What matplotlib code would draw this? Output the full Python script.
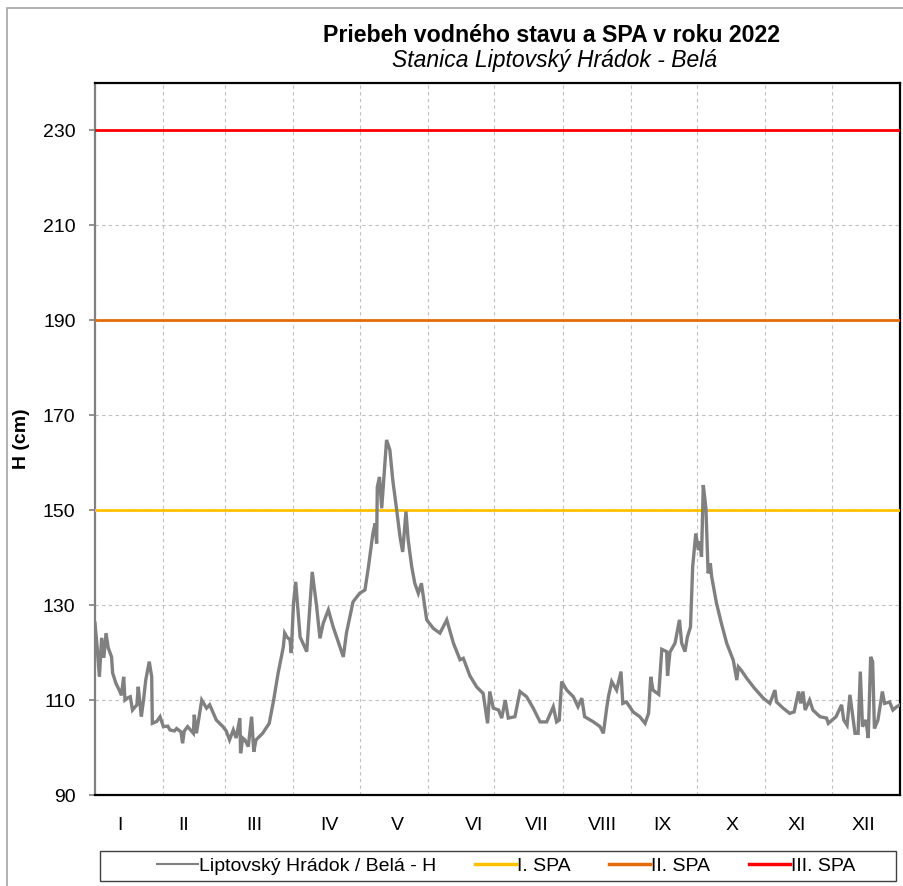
import matplotlib
matplotlib.use("Agg")
import matplotlib.pyplot as plt
from matplotlib.patches import Rectangle
from matplotlib.lines import Line2D

plt.rcParams['font.family'] = ['Liberation Sans', 'DejaVu Sans']

# ---------------- data ----------------
day = [0, 1, 2, 3, 4, 5, 6, 7.5, 8, 9.5, 11, 12, 13, 13.6, 15, 16, 17, 19, 19.6, 21, 22, 23,
       24.6, 25.7, 26, 28, 29.5, 31, 33, 34, 36, 37, 39, 39.7, 40.5, 42, 44.6, 45, 46, 48.4,
       50.6, 52, 55, 58, 59.5, 61, 62.7, 64, 65.7, 66, 67, 68, 69.5, 71, 72, 73, 76, 79, 81,
       83, 85.4, 86, 87, 88.4, 89, 90, 91, 93, 96, 98.5, 100.5, 102, 103.5, 105.8, 108, 112.6,
       114, 117, 120, 122.4, 124, 126, 127, 127.7, 128, 129, 130, 130.7, 132.2, 133.7, 135,
       136.8, 138.3, 139.5, 141, 142, 143.6, 145, 146.6, 148, 150.4, 153.4, 156.4, 159.5,
       162.5, 165.5, 167, 170, 173, 176, 178, 179, 180.6, 183, 184.4, 186, 187.4, 190.4,
       192.7, 195.7, 198.7, 201.8, 204.8, 207.8, 209.3, 210.5, 211.6, 213.9, 216.9, 219,
       220.7, 222, 226, 229, 230.5, 232, 232.8, 234.3, 236.5, 238.5, 239.3, 241, 244, 247,
       249.4, 251, 252, 253, 255.6, 257, 259.2, 259.6, 260.7, 263, 265, 266, 267.5, 268.6,
       270, 271, 272.4, 273.6, 274.3, 275, 275.8, 277, 278, 279, 279.6, 281.8, 284, 286.4,
       289.4, 291, 291.7, 293, 295.5, 299, 303, 306, 308.3, 309, 312, 315, 317, 319, 320,
       321, 322, 324, 325.5, 328.7, 331.7, 332.5, 336, 338.5, 339.5, 341, 342.3, 344.6, 346,
       347, 348, 349.5, 350.6, 351.7, 352.6, 353.4, 355, 357, 358, 360.3, 361.8, 363.5, 365]
level = [126.2, 121, 114.9, 123.1, 118.9, 124.1, 121, 119.1, 115.7, 113.5, 112.1, 111, 114.9,
         110, 110.5, 110.7, 107.9, 109, 112.8, 106.5, 110, 114.2, 118.1, 114.9, 105.1, 105.5,
         106.5, 104.4, 104.5, 103.7, 103.5, 104, 103.3, 100.9, 103.5, 104.4, 103, 106.9, 103,
         110, 108.3, 109, 105.8, 104.4, 103.5, 101.6, 103.7, 102, 106.2, 98.8, 102, 101.6,
         100.2, 106.5, 99.1, 101.6, 103, 105.1, 110, 115.6, 121.2, 124.1, 123.3, 122.7, 119.9,
         130.4, 134.9, 123.3, 120.2, 137, 129.7, 123, 126.2, 129, 125.4, 119.1, 124.1, 130.7,
         132.5, 133.2, 138.1, 145.1, 147.2, 143, 154.9, 157, 150.4, 154.9, 164.8, 162.7, 156.4,
         150, 144.4, 141.2, 149.7, 143.7, 138.1, 134.6, 132.5, 134.6, 126.9, 125.1, 124.1,
         126.9, 122, 118.5, 118.8, 115.1, 112.8, 111.4, 105.1, 111.8, 108.3, 107.9, 106.2, 110,
         106.2, 106.5, 111.8, 110.7, 108.3, 105.4, 105.4, 108.6, 105.4, 105.8, 113.9, 112.1,
         110.7, 108.6, 110.4, 106.5, 105.4, 104.4, 103, 108.3, 110.7, 113.9, 112.1, 116, 109.3,
         109.6, 107.5, 106.5, 105.1, 107.2, 114.9, 112.1, 111.2, 120.7, 120.2, 115.1, 120.1,
         122, 126.9, 122, 120.2, 123.3, 125.4, 138.1, 145.1, 141.6, 143.4, 140.2, 155.3, 150.4,
         136.7, 138.8, 136, 130.4, 126.2, 122, 118.4, 114.2, 117, 116.3, 114.6, 112.5, 110.4,
         109.3, 112.1, 109.6, 108.3, 107.2, 107.5, 111.8, 109.3, 111.8, 107.9, 110, 107.9,
         106.5, 106.2, 105.1, 106.5, 109, 105.8, 104.7, 111.1, 103, 103, 116, 104.4, 105.8, 102,
         119.1, 118.1, 104, 105.8, 111.8, 109.3, 109.6, 107.9, 108.6, 109]

spa_levels = [150, 190, 230]
spa_names = ["I. SPA", "II. SPA", "III. SPA"]
series_name = "Liptovský Hrádok / Belá - H"

month_starts = [0, 31, 59, 90, 120, 151, 181, 212, 243, 273, 304, 334, 365]
month_labels = ["I", "II", "III", "IV", "V", "VI", "VII", "VIII", "IX", "X", "XI", "XII"]
month_label_pos = [11.3, 40.4, 72.1, 106.5, 137, 171.8, 200.4, 230.3, 257.5, 288.8, 318.3, 348.2]

y_ticks = [90, 110, 130, 150, 170, 190, 210, 230]

title = "Priebeh vodného stavu a SPA v roku 2022"
subtitle = "Stanica Liptovský Hrádok - Belá"
ylabel = "H (cm)"

# ---------------- figure ----------------
W, H = 904, 886
fig = plt.figure(figsize=(W / 100, H / 100), dpi=100)
fig.patch.set_facecolor("white")

# outer border (gray)
fig.patches.append(Rectangle((7 / W, -0.05), 1.2, 1 - 8 / H + 0.05, transform=fig.transFigure,
                             fill=False, edgecolor="#A6A6A6", linewidth=1.2, clip_on=False))

ax = fig.add_axes([95 / W, 91 / H, 805 / W, 712 / H])

spa_colors = ["#FFC000", "#E36C09", "#FF0000"]
for lvl, col in zip(spa_levels, spa_colors):
    ax.axhline(lvl, color=col, linewidth=2.0, zorder=3)

ax.plot(day, level, color="#808080", linewidth=2.4, zorder=4, solid_joinstyle="miter")

ax.set_xlim(0, 365)
ax.set_ylim(90, 240)

ax.set_yticks(y_ticks)
ax.set_yticklabels([str(v) for v in y_ticks])
ax.set_xticks(month_starts)
ax.set_xticklabels([])
ax.set_xticks(month_label_pos, minor=True)
ax.set_xticklabels(month_labels, minor=True)

ax.tick_params(axis="y", which="major", direction="out", length=4, width=1.2, color="#808080",
               labelsize=14, pad=10)
ax.tick_params(axis="x", which="major", length=0)
ax.tick_params(axis="x", which="minor", length=0, labelsize=14, pad=16)

ax.grid(True, which="major", axis="both", color="#BFBFBF", linestyle=(0, (3, 3)), linewidth=0.8)
ax.set_axisbelow(True)

for side in ["top", "right", "bottom"]:
    ax.spines[side].set_color("black")
    ax.spines[side].set_linewidth(1.6)
ax.spines["left"].set_color("#808080")
ax.spines["left"].set_linewidth(1.6)

ax.set_ylabel(ylabel, fontsize=14, fontweight="bold")
ax.yaxis.set_label_coords(-(95 - 30) / 805, 0.5)

fig.text(552 / W, 1 - 41.5 / H, title, ha="center", va="baseline", fontsize=16.7,
         fontweight="bold")
fig.text(555 / W, 1 - 67 / H, subtitle, ha="center", va="baseline", fontsize=16.5,
         style="italic")

# legend box
fig.patches.append(Rectangle((100 / W, 5 / H), 796 / W, 30 / H, transform=fig.transFigure,
                             facecolor="white", edgecolor="#404040", linewidth=1.0))
handles = [Line2D([], [], color="#808080", linewidth=1.5)] + \
          [Line2D([], [], color=c, linewidth=2.5) for c in spa_colors]
labels = [series_name] + spa_names
fig.legend(handles, labels, loc="center", bbox_to_anchor=(506 / W, 20 / H), ncol=4,
           frameon=False, fontsize=14, handlelength=2.1, handletextpad=0.05,
           columnspacing=2.0, borderaxespad=0, borderpad=0)

fig.savefig("out.png", dpi=100)
